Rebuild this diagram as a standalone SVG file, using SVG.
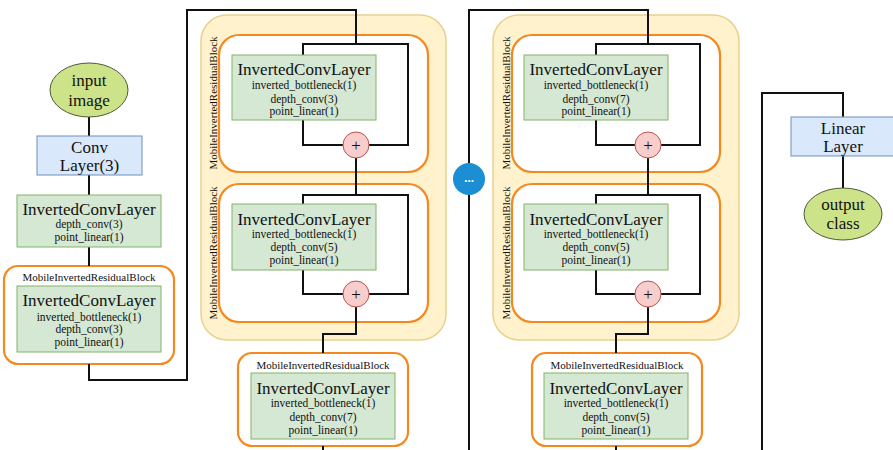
<svg xmlns="http://www.w3.org/2000/svg" width="893" height="450" viewBox="0 0 893 450">
<style>
.t{font-family:"Liberation Serif","Times New Roman",serif;fill:#111;text-anchor:middle}
.big{font-size:17px}
.sm{font-size:11.5px}
.lb{font-size:11px}
.yel{fill:#fff2cc;stroke:#e8d28f;stroke-width:1.5}
.org{fill:#ffffff;stroke:#f5891f;stroke-width:2.2}
.orgy{fill:#ffffff;stroke:#f5891f;stroke-width:2.2}
.grn{fill:#d5e8d4;stroke:#82b366;stroke-width:1}
.blu{fill:#dae8fc;stroke:#6c8ebf;stroke-width:1}
.ell{fill:#cde38a;stroke:#4d5a36;stroke-width:1}
.plus{fill:#f8cecc;stroke:#b85450;stroke-width:1}
.con{fill:none;stroke:#111;stroke-width:2}
</style>
<rect width="893" height="450" fill="#ffffff"/>

<!-- containers -->
<g id="yellow1"><rect class="yel" x="201" y="15" width="245" height="325" rx="26"/></g>
<g id="yellow2"><rect class="yel" x="493" y="15" width="246" height="325" rx="26"/></g>
<g id="mirb-y1a">
<rect class="orgy" x="219" y="35" width="209" height="137" rx="20"/>
<text class="t lb" transform="translate(217,103) rotate(-90)">MobileInvertedResidualBlock</text>
</g>
<g id="mirb-y1b">
<rect class="orgy" x="219" y="184" width="209" height="138" rx="20"/>
<text class="t lb" transform="translate(217,253) rotate(-90)">MobileInvertedResidualBlock</text>
</g>
<g id="mirb-y2a">
<rect class="orgy" x="512" y="35" width="208" height="137" rx="20"/>
<text class="t lb" transform="translate(510,103) rotate(-90)">MobileInvertedResidualBlock</text>
</g>
<g id="mirb-y2b">
<rect class="orgy" x="512" y="184" width="208" height="138" rx="20"/>
<text class="t lb" transform="translate(510,253) rotate(-90)">MobileInvertedResidualBlock</text>
</g>
<g id="mirb-left">
<rect class="org" x="4" y="266" width="170" height="98" rx="14"/>
<text class="t lb" x="89" y="281">MobileInvertedResidualBlock</text>
</g>
<g id="mirb-b1">
<rect class="org" x="238" y="353" width="170" height="93" rx="14"/>
<text class="t lb" x="323" y="369">MobileInvertedResidualBlock</text>
</g>
<g id="mirb-b2">
<rect class="org" x="532" y="353" width="170" height="93" rx="14"/>
<text class="t lb" x="617" y="369">MobileInvertedResidualBlock</text>
</g>

<!-- connectors -->
<g id="connectors" class="con">
<path d="M89,117 V136"/>
<path d="M89,175 V195"/>
<path d="M89,247 V266"/>
<path d="M89,364 V380 H187 V10 H356 V44"/>
<path d="M343,145 H303 V44 H408 V145 H369"/>
<path d="M356,158 V195"/>
<path d="M343,294 H303 V195 H408 V294 H369"/>
<path d="M356,307 V334 H323 V353"/>
<path d="M323,446 V450"/>
<path d="M469,450 V10 H648 V44"/>
<path d="M635,145 H596 V44 H700 V145 H661"/>
<path d="M648,158 V195"/>
<path d="M635,294 H596 V195 H700 V294 H661"/>
<path d="M648,307 V334 H616 V353"/>
<path d="M616,446 V450"/>
<path d="M762,450 V93 H843 V117"/>
<path d="M843,156 V188"/>
</g>

<!-- nodes -->
<g id="input"><ellipse class="ell" cx="89" cy="90" rx="39" ry="27"/>
<text class="t big" x="89" y="86">input</text><text class="t big" x="89" y="106">image</text></g>

<g id="conv"><rect class="blu" x="37" y="136" width="105" height="39"/>
<text class="t big" x="89.5" y="153">Conv</text><text class="t big" x="89.5" y="171">Layer(3)</text></g>

<g id="icl0"><rect class="grn" x="17" y="195" width="144" height="52"/>
<text class="t big" x="89" y="215">InvertedConvLayer</text>
<text class="t sm" x="89" y="228">depth_conv(3)</text>
<text class="t sm" x="89" y="241">point_linear(1)</text></g>

<g id="icl1"><rect class="grn" x="17" y="286" width="144" height="66"/>
<text class="t big" x="89" y="306">InvertedConvLayer</text>
<text class="t sm" x="89" y="321">inverted_bottleneck(1)</text>
<text class="t sm" x="89" y="333">depth_conv(3)</text>
<text class="t sm" x="89" y="346">point_linear(1)</text></g>

<g id="icl2"><rect class="grn" x="232" y="55" width="144" height="65"/>
<text class="t big" x="304" y="75">InvertedConvLayer</text>
<text class="t sm" x="304" y="89">inverted_bottleneck(1)</text>
<text class="t sm" x="304" y="103">depth_conv(3)</text>
<text class="t sm" x="304" y="115">point_linear(1)</text></g>
<g id="plus1"><circle class="plus" cx="356" cy="145" r="13"/><text class="t" style="font-size:17px" x="356" y="151">+</text></g>

<g id="icl3"><rect class="grn" x="232" y="204" width="144" height="66"/>
<text class="t big" x="304" y="225">InvertedConvLayer</text>
<text class="t sm" x="304" y="238">inverted_bottleneck(1)</text>
<text class="t sm" x="304" y="251">depth_conv(5)</text>
<text class="t sm" x="304" y="264">point_linear(1)</text></g>
<g id="plus2"><circle class="plus" cx="356" cy="294" r="13"/><text class="t" style="font-size:17px" x="356" y="300">+</text></g>

<g id="icl4"><rect class="grn" x="251" y="373" width="144" height="66"/>
<text class="t big" x="323" y="394">InvertedConvLayer</text>
<text class="t sm" x="323" y="407">inverted_bottleneck(1)</text>
<text class="t sm" x="323" y="421">depth_conv(7)</text>
<text class="t sm" x="323" y="434">point_linear(1)</text></g>

<g id="dots"><circle cx="469" cy="179" r="16" fill="#1b8ed4"/><text class="t" style="font-size:13px;fill:#ffffff;font-weight:bold" x="469" y="182">...</text></g>

<g id="icl5"><rect class="grn" x="524" y="55" width="144" height="65"/>
<text class="t big" x="596" y="75">InvertedConvLayer</text>
<text class="t sm" x="596" y="89">inverted_bottleneck(1)</text>
<text class="t sm" x="596" y="103">depth_conv(7)</text>
<text class="t sm" x="596" y="115">point_linear(1)</text></g>
<g id="plus3"><circle class="plus" cx="648" cy="145" r="13"/><text class="t" style="font-size:17px" x="648" y="151">+</text></g>

<g id="icl6"><rect class="grn" x="524" y="204" width="144" height="66"/>
<text class="t big" x="596" y="225">InvertedConvLayer</text>
<text class="t sm" x="596" y="238">inverted_bottleneck(1)</text>
<text class="t sm" x="596" y="251">depth_conv(5)</text>
<text class="t sm" x="596" y="264">point_linear(1)</text></g>
<g id="plus4"><circle class="plus" cx="648" cy="294" r="13"/><text class="t" style="font-size:17px" x="648" y="300">+</text></g>

<g id="icl7"><rect class="grn" x="544" y="373" width="144" height="66"/>
<text class="t big" x="616" y="394">InvertedConvLayer</text>
<text class="t sm" x="616" y="407">inverted_bottleneck(1)</text>
<text class="t sm" x="616" y="421">depth_conv(5)</text>
<text class="t sm" x="616" y="434">point_linear(1)</text></g>

<g id="linear"><rect class="blu" x="791" y="117" width="104" height="39"/>
<text class="t big" x="843" y="134">Linear</text><text class="t big" x="843" y="152">Layer</text></g>

<g id="output"><ellipse class="ell" cx="843" cy="214" rx="39" ry="26"/>
<text class="t big" x="843" y="210">output</text><text class="t big" x="843" y="229">class</text></g>
</svg>
